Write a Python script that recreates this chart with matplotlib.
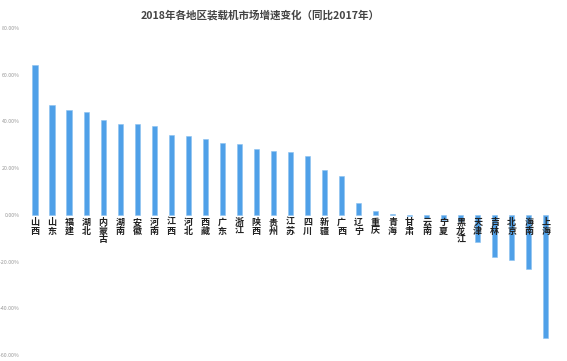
import matplotlib.pyplot as plt
from matplotlib.ticker import FuncFormatter

plt.rcParams['font.family'] = ['Noto Sans CJK SC', 'DejaVu Sans']

# regions and growth vs 2017 (%)
regions = ['山西', '山东', '福建', '湖北', '内蒙古', '湖南', '安徽', '河南', '江西', '河北',
           '西藏', '广东', '浙江', '陕西', '贵州', '江苏', '四川', '新疆', '广西', '辽宁',
           '重庆', '青海', '甘肃', '云南', '宁夏', '黑龙江', '天津', '吉林', '北京', '海南', '上海']
growth = [64.2, 47.0, 45.1, 44.0, 40.7, 39.1, 39.1, 38.0, 34.4, 33.8,
          32.4, 30.6, 30.3, 28.2, 27.5, 27.1, 25.4, 19.0, 16.8, 4.9,
          1.8, 0.5, -0.4, -1.5, -2.0, -2.5, -11.6, -18.1, -19.5, -23.1, -52.7]
yticks = [-60, -40, -20, 0, 20, 40, 60, 80]

fig = plt.figure(figsize=(5.67, 3.61), dpi=100)
ax = fig.add_axes([0.0377, 0.0166, 0.949, 0.9058])

x = list(range(len(regions)))
ax.bar(x, growth, width=0.3, color='#4fa0e8', edgecolor='#8cc2f0', linewidth=0.4, zorder=2)

ax.set_xlim(-0.8, len(regions) - 0.2)
ax.set_ylim(-60, 80)
ax.set_yticks(yticks)
ax.yaxis.set_major_formatter(FuncFormatter(lambda v, p: f'{v:.2f}%'))
ax.tick_params(axis='y', length=0, labelsize=3.8, labelcolor='#999999', pad=1)
ax.set_xticks([])
for s in ax.spines.values():
    s.set_visible(False)

# vertical stacked labels just below zero line
for xi, name in zip(x, regions):
    ax.text(xi, -1.3, '\n'.join(name), ha='center', va='top', fontsize=6.5,
            fontweight='bold', color='#222222', linespacing=0.95, zorder=3)

fig.text(0.459, 0.958, '2018年各地区装载机市场增速变化（同比2017年）', ha='center', va='center',
         fontsize=7.6, fontweight='bold', color='#444444')

fig.savefig('out.png', dpi=100)
